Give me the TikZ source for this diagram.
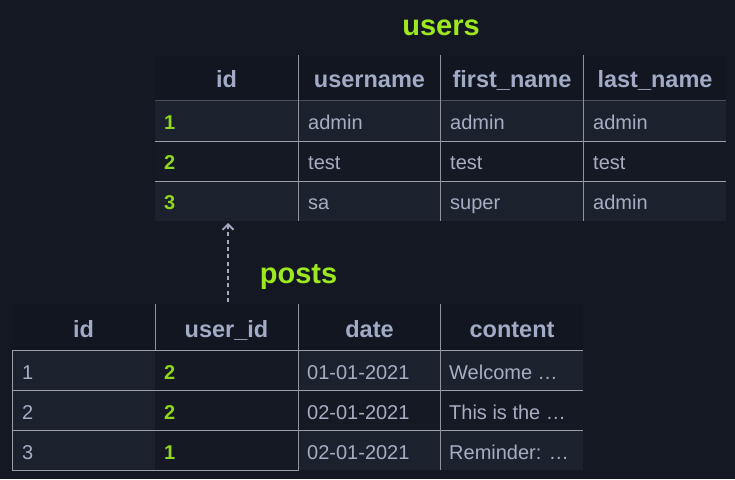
\documentclass[tikz,border=0pt]{standalone}
\usepackage{fontspec}
\setmainfont{Liberation Sans}
\usetikzlibrary{arrows.meta}
\definecolor{pagebg}{HTML}{131823}
\definecolor{hdrbg}{HTML}{121621}
\definecolor{rowlight}{HTML}{1C222D}
\definecolor{rowdark}{HTML}{141923}
\definecolor{gridline}{HTML}{9A9EA6}
\definecolor{vline}{HTML}{8E939C}
\definecolor{hdrline}{HTML}{4A505B}
\definecolor{hdrtxt}{HTML}{A2ABC6}
\definecolor{valtxt}{HTML}{A7AEC3}
\definecolor{keygreen}{HTML}{8FD61C}
\definecolor{titlegreen}{HTML}{9DE81F}
\definecolor{arrowcol}{HTML}{A3AABF}
\tikzset{
  hdr/.style={font=\fontsize{23.5}{28}\selectfont\bfseries, text=hdrtxt, anchor=base, inner sep=0pt},
  val/.style={font=\fontsize{20}{24}\selectfont, text=valtxt, anchor=base west, inner sep=0pt},
  keyval/.style={font=\fontsize{20}{24}\selectfont\bfseries, text=keygreen, anchor=base west, inner sep=0pt},
  tabletitle/.style={font=\fontsize{29}{34}\selectfont\bfseries, text=titlegreen, anchor=base, inner sep=0pt},
  cell/.style={rectangle, draw=none, inner sep=0pt, outer sep=0pt},
  grid/.style={draw=gridline, line width=1pt},
  vsep/.style={draw=vline, line width=1pt},
  conn/.style={draw=arrowcol, line width=1.8pt, dash pattern=on 4pt off 3.3pt, -{Straight Barb[length=5.5pt,width=11pt,line width=1.8pt]}}
}
\begin{document}
\begin{tikzpicture}[x=1pt,y=-1pt]
\fill[pagebg] (0,0) rectangle (735,479);
\useasboundingbox (0,0) rectangle (735,479);

% ---------------- users table ----------------
\fill[hdrbg] (155,55) rectangle (726,100);
\fill[rowlight] (155,100) rectangle (726,141);
\fill[rowdark] (155,141) rectangle (726,181);
\fill[rowlight] (155,181) rectangle (726,221);
\node[cell, minimum width=143pt, minimum height=40pt] (uidcell3) at (226.5,201) {};

\draw[hdrline, line width=1pt] (155,100) -- (726,100);
\draw[grid] (155,141) -- (726,141);
\draw[grid] (155,181) -- (726,181);
\draw[vsep] (298.5,55) -- (298.5,221);
\draw[vsep] (440.5,55) -- (440.5,221);
\draw[vsep] (583.5,55) -- (583.5,221);

\node[tabletitle] (userstitle) at (441,35) {users};

\node[hdr] (uh1) at (226.5,87) {id};
\node[hdr] (uh2) at (369.5,87) {username};
\node[hdr] (uh3) at (512,87) {first\_name};
\node[hdr] (uh4) at (655,87) {last\_name};

\node[keyval] (u11) at (164,129) {1};
\node[val] (u12) at (308,129) {admin};
\node[val] (u13) at (450,129) {admin};
\node[val] (u14) at (593,129) {admin};

\node[keyval] (u21) at (164,169.5) {2};
\node[val] (u22) at (308,169.5) {test};
\node[val] (u23) at (450,169.5) {test};
\node[val] (u24) at (593,169.5) {test};

\node[keyval] (u31) at (164,209.5) {3};
\node[val] (u32) at (308,209.5) {sa};
\node[val] (u33) at (450,209.5) {super};
\node[val] (u34) at (593,209.5) {admin};

% ---------------- posts table ----------------
\fill[hdrbg] (12,304) rectangle (583,350);
\fill[rowlight] (12,350) rectangle (155,470);
\fill[rowdark] (155,350) rectangle (298,470);
\fill[rowlight] (298,350) rectangle (583,390);
\fill[rowdark] (298,390) rectangle (583,430);
\fill[rowlight] (298,430) rectangle (583,470);
\node[cell, minimum width=143pt, minimum height=46pt] (puidhdr) at (226.5,327) {};

\draw[grid] (12,350) -- (583,350);
\draw[grid] (12,390) -- (583,390);
\draw[grid] (12,430) -- (583,430);
\draw[grid] (12.5,350) -- (12.5,470.5) -- (298.5,470.5);
\draw[vsep] (155.5,304) -- (155.5,350);
\draw[vsep] (298.5,304) -- (298.5,470.5);
\draw[vsep] (440.5,304) -- (440.5,470);

\node[tabletitle] (poststitle) at (298.5,283.5) {posts};

\node[hdr] (ph1) at (83.5,337) {id};
\node[hdr] (ph2) at (226.5,337) {user\_id};
\node[hdr] (ph3) at (369.5,337) {date};
\node[hdr] (ph4) at (512,337) {content};

\node[val] (p11) at (22,379) {1};
\node[keyval] (p12) at (164,379) {2};
\node[val] (p13) at (307,379) {01-01-2021};
\node[val] (p14) at (449,379) {Welcome …};

\node[val] (p21) at (22,419) {2};
\node[keyval] (p22) at (164,419) {2};
\node[val] (p23) at (307,419) {02-01-2021};
\node[val] (p24) at (449,419) {This is the …};

\node[val] (p31) at (22,459) {3};
\node[keyval] (p32) at (164,459) {1};
\node[val] (p33) at (307,459) {02-01-2021};
\node[val] (p34) at (449,459) {Reminder: …};

% ---------------- connector ----------------
\draw[conn, shorten <=2pt, shorten >=2pt] ([xshift=1.5pt]puidhdr.north) -- ([xshift=1.5pt]uidcell3.south);
\end{tikzpicture}
\end{document}
